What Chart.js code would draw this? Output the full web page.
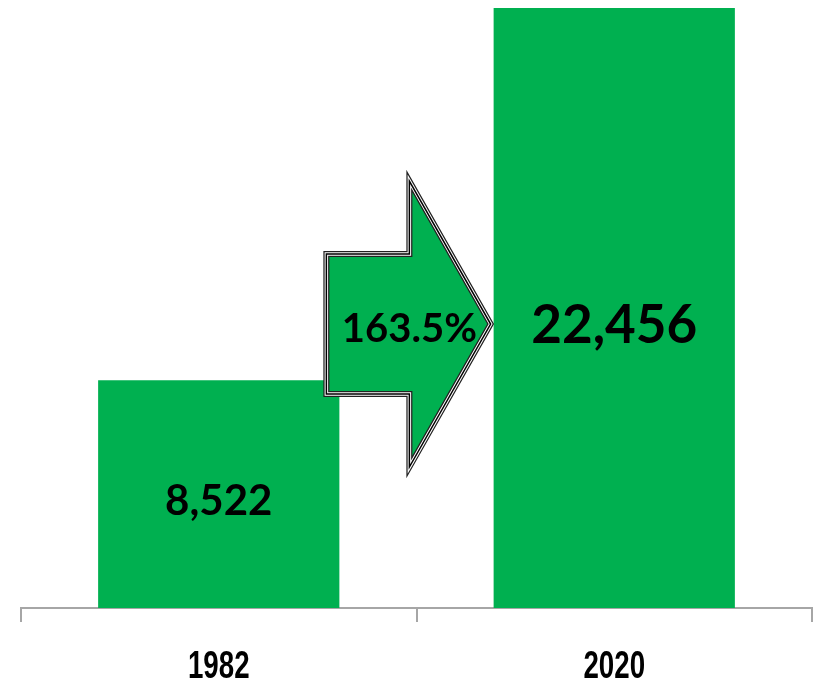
<!DOCTYPE html>
<html>
<head>
<meta charset="utf-8">
<script src="https://cdn.jsdelivr.net/npm/chart.js@4"></script>
<style>
  html, body { margin: 0; padding: 0; background: #fff; }
  #wrap { width: 819px; height: 684px; }
</style>
</head>
<body>
<div id="wrap"><canvas id="growthChart" width="819" height="684"></canvas></div>
<script>
// chart values
const years = ['1982', '2020'];
const counts = [8522, 22456];
const growthLabel = '163.5%';

const green = '#00B050';

// value labels inside the bars, plus the growth arrow between them
const barLabels = {
  id: 'barLabels',
  afterDatasetsDraw(chart) {
    const ctx = chart.ctx;
    const meta = chart.getDatasetMeta(0);
    const y = chart.scales.y;
    const sizes = [42, 53];
    ctx.save();
    ctx.fillStyle = '#000';
    ctx.textAlign = 'center';
    ctx.textBaseline = 'middle';
    meta.data.forEach((bar, i) => {
      ctx.font = 'bold ' + sizes[i] + 'px Lato';
      ctx.fillText(counts[i].toLocaleString('en-US'), bar.x, y.getPixelForValue(counts[i] * 0.47));
    });

    // arrow from the first bar to the second
    const b1 = meta.data[0], b2 = meta.data[1];
    const left = b1.x + b1.width / 2 - 13;
    const tip = b2.x - b2.width / 2 - 3;
    const neck = left + 83;
    const cy = y.getPixelForValue(counts[1] * 0.47) - 2;
    const shaftH = 70, headH = 143;
    ctx.beginPath();
    ctx.moveTo(left, cy - shaftH);
    ctx.lineTo(neck, cy - shaftH);
    ctx.lineTo(neck, cy - headH);
    ctx.lineTo(tip, cy);
    ctx.lineTo(neck, cy + headH);
    ctx.lineTo(neck, cy + shaftH);
    ctx.lineTo(left, cy + shaftH);
    ctx.closePath();
    ctx.fillStyle = green;
    ctx.fill();
    ctx.lineJoin = 'miter';
    ctx.strokeStyle = '#222';
    ctx.lineWidth = 6;
    ctx.stroke();
    ctx.strokeStyle = '#fff';
    ctx.lineWidth = 3.5;
    ctx.stroke();
    ctx.strokeStyle = '#000';
    ctx.lineWidth = 1.5;
    ctx.stroke();
    ctx.fillStyle = '#000';
    ctx.font = 'bold 40px Lato';
    ctx.fillText(growthLabel, neck, cy + 5);
    ctx.restore();
  },
  // year labels, drawn condensed since no narrow font is installed
  afterDraw(chart) {
    const ctx = chart.ctx;
    const x = chart.scales.x;
    ctx.save();
    ctx.fillStyle = '#000';
    ctx.textAlign = 'center';
    ctx.textBaseline = 'middle';
    ctx.font = 'bold 39px "Liberation Sans"';
    years.forEach((yr, i) => {
      ctx.save();
      ctx.translate(x.getPixelForTick(i), x.top + 59);
      ctx.scale(0.71, 1);
      ctx.fillText(yr, 0, 0);
      ctx.restore();
    });
    ctx.restore();
  }
};

new Chart(document.getElementById('growthChart'), {
  type: 'bar',
  data: {
    labels: years,
    datasets: [{
      data: counts,
      backgroundColor: green,
      borderWidth: 0,
      barPercentage: 0.61,
      categoryPercentage: 1
    }]
  },
  options: {
    responsive: false,
    animation: false,
    layout: { padding: { left: 21, right: 7, top: 0, bottom: 0 } },
    plugins: {
      legend: { display: false },
      tooltip: { enabled: false }
    },
    scales: {
      x: {
        grid: {
          offset: true,
          drawOnChartArea: false,
          drawTicks: true,
          tickLength: 14,
          color: '#a6a6a6',
          lineWidth: 2
        },
        border: { color: '#a6a6a6', width: 2 },
        ticks: {
          padding: 14,
          color: 'rgba(0,0,0,0)',
          font: { size: 34, lineHeight: 1 }
        }
      },
      y: {
        display: false,
        min: 0,
        max: 22756
      }
    }
  },
  plugins: [barLabels]
});
</script>
</body>
</html>
